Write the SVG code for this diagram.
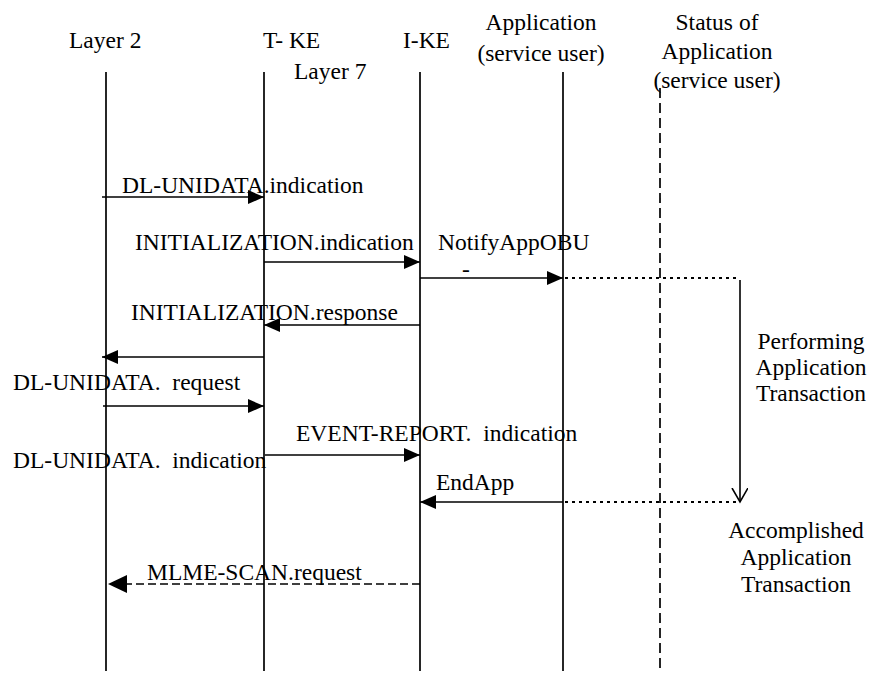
<svg xmlns="http://www.w3.org/2000/svg" width="870" height="673" viewBox="0 0 870 673">
<defs>
<style>
text{font-family:"Liberation Serif","DejaVu Serif","Times New Roman",Times,serif;font-size:23.5px;fill:#000}
.mid{text-anchor:middle}
.life{stroke:#000;stroke-width:1.7;fill:none}
.dash{stroke:#000;stroke-width:1.7;stroke-dasharray:10 5;fill:none}
.msg{stroke:#000;stroke-width:1.6;fill:none}
.dot{stroke:#000;stroke-width:2;stroke-dasharray:3 4;fill:none}
.mdash{stroke:#000;stroke-width:1.6;stroke-dasharray:8 4;fill:none}
</style>
<marker id="ah" markerUnits="userSpaceOnUse" markerWidth="17" markerHeight="14" refX="16" refY="7" orient="auto">
<path d="M0,0 L16,7 L0,14 z" fill="#000"/>
</marker>
<marker id="ahL" markerUnits="userSpaceOnUse" markerWidth="20" markerHeight="18" refX="19" refY="9" orient="auto">
<path d="M0,0 L19,9 L0,18 z" fill="#000"/>
</marker>
<marker id="vh" markerUnits="userSpaceOnUse" markerWidth="16" markerHeight="18" refX="14" refY="8" orient="auto">
<path d="M0,0 L14,8 L0,16" fill="none" stroke="#000" stroke-width="1.6"/>
</marker>
</defs>
<rect width="870" height="673" fill="#fff"/>

<g id="layer2" font-family="Liberation Serif, serif">
<text x="69" y="48">Layer 2</text>
<line class="life" x1="106" y1="72" x2="106" y2="671"/>
</g>
<g id="tke" font-family="Liberation Serif, serif">
<text x="263" y="48">T- KE</text>
<text x="294" y="79">Layer 7</text>
<line class="life" x1="264" y1="72" x2="264" y2="671"/>
</g>
<g id="ike" font-family="Liberation Serif, serif">
<text x="403" y="48">I-KE</text>
<line class="life" x1="420" y1="72" x2="420" y2="671"/>
</g>
<g id="app" font-family="Liberation Serif, serif">
<text class="mid" x="541" y="30">Application</text>
<text class="mid" x="541" y="61">(service user)</text>
<line class="life" x1="563" y1="72" x2="563" y2="671"/>
</g>
<g id="status" font-family="Liberation Serif, serif">
<text class="mid" x="717" y="30">Status of</text>
<text class="mid" x="717" y="59">Application</text>
<text class="mid" x="717" y="88">(service user)</text>
<line class="dash" x1="660" y1="88" x2="660" y2="671"/>
</g>
<g id="performing" font-family="Liberation Serif, serif">
<text class="mid" x="811" y="349">Performing</text>
<text class="mid" x="811" y="375">Application</text>
<text class="mid" x="811" y="401">Transaction</text>
</g>
<g id="accomplished" font-family="Liberation Serif, serif">
<text class="mid" x="796" y="538">Accomplished</text>
<text class="mid" x="796" y="565">Application</text>
<text class="mid" x="796" y="592">Transaction</text>
</g>

<g id="connectors">
<line class="msg" x1="102" y1="197" x2="264" y2="197" marker-end="url(#ah)"/>
<line class="msg" x1="264" y1="262" x2="420" y2="262" marker-end="url(#ah)"/>
<line class="msg" x1="420" y1="278" x2="563" y2="278" marker-end="url(#ah)"/>
<line class="dot" x1="565" y1="278" x2="740" y2="278"/>
<line class="msg" x1="420" y1="325" x2="264" y2="325" marker-end="url(#ah)"/>
<line class="msg" x1="264" y1="357" x2="102" y2="357" marker-end="url(#ah)"/>
<line class="msg" x1="103" y1="406" x2="264" y2="406" marker-end="url(#ah)"/>
<line class="msg" x1="265" y1="455" x2="420" y2="455" marker-end="url(#ah)"/>
<line class="msg" x1="563" y1="502" x2="420" y2="502" marker-end="url(#ah)"/>
<line class="dot" x1="565" y1="502" x2="736" y2="502"/>
<line class="msg" x1="740" y1="280" x2="740" y2="502" marker-end="url(#vh)"/>
<line class="mdash" x1="420" y1="584" x2="108" y2="584" marker-end="url(#ahL)"/>
</g>

<g id="labels" font-family="Liberation Serif, serif">
<text x="122" y="193">DL-UNIDATA.indication</text>
<text x="135" y="250">INITIALIZATION.indication</text>
<text x="438" y="250">NotifyAppOBU</text>
<text x="462" y="277">-</text>
<text x="131" y="320">INITIALIZATION.response</text>
<text x="13" y="390" xml:space="preserve">DL-UNIDATA.  request</text>
<text x="296" y="441" xml:space="preserve">EVENT-REPORT.  indication</text>
<text x="13" y="468" xml:space="preserve">DL-UNIDATA.  indication</text>
<text x="436" y="490">EndApp</text>
<text x="147" y="580">MLME-SCAN.request</text>
</g>
</svg>
